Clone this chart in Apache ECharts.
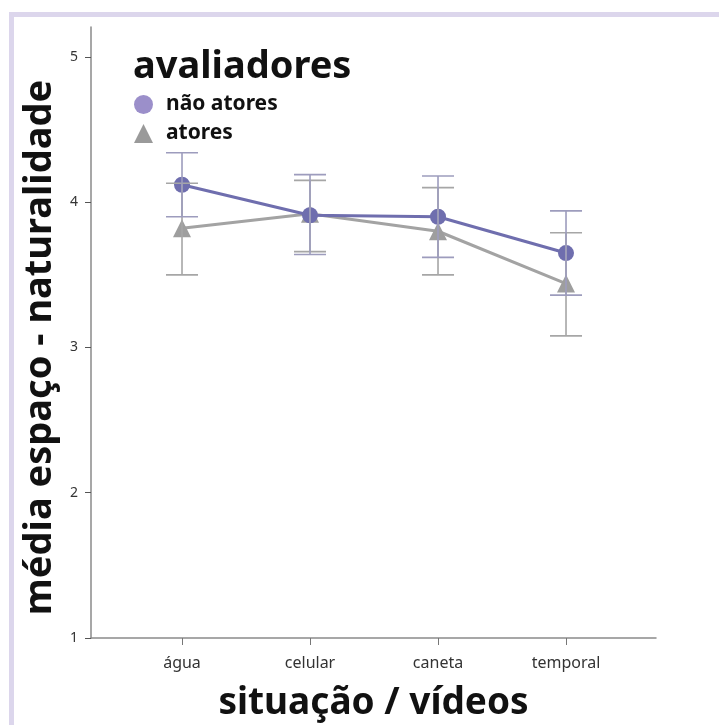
<!DOCTYPE html>
<html>
<head>
<meta charset="utf-8">
<script src="https://cdn.jsdelivr.net/npm/echarts@6/dist/echarts.min.js"></script>
<style>
  html, body { margin: 0; padding: 0; background: #fff; }
  .frame {
    position: absolute;
    left: 9px;
    top: 12px;
    width: 720px;
    height: 720px;
    border-left: 5px solid #dcd6ec;
    border-top: 5px solid #dcd6ec;
  }
  #chart { position: absolute; left: 0; top: 0; width: 719px; height: 725px; }
</style>
</head>
<body>
<div class="frame"></div>
<div id="chart"></div>
<script>
const categories = ['água', 'celular', 'caneta', 'temporal']
const xTicks = [0, 1, 2, 3]
const yTicks = [1, 2, 3, 4, 5]

// não atores
const naoAtoresMean = [4.12, 3.91, 3.90, 3.65]
const naoAtoresLow = [3.90, 3.64, 3.62, 3.36]
const naoAtoresHigh = [4.34, 4.19, 4.18, 3.94]

// atores
const atoresMean = [3.82, 3.92, 3.80, 3.44]
const atoresLow = [3.50, 3.66, 3.50, 3.08]
const atoresHigh = [4.13, 4.15, 4.10, 3.79]

const purple = '#6f6eae'
const gray = '#9e9e9e'

function pts(mean) {
  return mean.map((v, i) => [i, v])
}
function bars(low, high) {
  return low.map((v, i) => [i, v, high[i]])
}

function errorBar(color) {
  return (params, api) => {
    const x = api.value(0)
    const lo = api.coord([x, api.value(1)])
    const hi = api.coord([x, api.value(2)])
    const w = 16
    const style = { stroke: color, lineWidth: 1.6 }
    return {
      type: 'group',
      children: [
        { type: 'line', shape: { x1: lo[0], y1: lo[1], x2: hi[0], y2: hi[1] }, style },
        { type: 'line', shape: { x1: lo[0] - w, y1: lo[1], x2: lo[0] + w, y2: lo[1] }, style },
        { type: 'line', shape: { x1: hi[0] - w, y1: hi[1], x2: hi[0] + w, y2: hi[1] }, style },
      ],
    }
  }
}

const option = {
  animation: false,
  title: {
    text: 'avaliadores',
    left: 128,
    top: 43,
    textStyle: { fontFamily: 'Noto Sans', fontSize: 38, fontWeight: 'bold', color: '#111' },
  },
  legend: {
    orient: 'vertical',
    left: 129,
    top: 89,
    itemWidth: 19,
    itemHeight: 19,
    itemGap: 8,
    selectedMode: false,
    textStyle: { fontFamily: 'Noto Sans', fontSize: 21, fontWeight: 'bold', color: '#111', padding: [0, 0, 0, 8] },
    data: [
      { name: 'não atores', icon: 'circle', itemStyle: { color: '#9b8fca' } },
      { name: 'atores', icon: 'triangle', itemStyle: { color: '#9a9a9a' } },
    ],
  },
  grid: { left: 91, right: 63, top: 27, bottom: 87, outerBoundsMode: 'none' },
  xAxis: {
    type: 'value',
    min: -0.711,
    max: 3.703,
    name: 'situação / vídeos',
    nameLocation: 'middle',
    nameGap: 47,
    nameTextStyle: { fontFamily: 'Noto Sans', fontSize: 37, fontWeight: 'bold', color: '#111' },
    splitLine: { show: false },
    axisLine: { onZero: false, lineStyle: { color: '#8a8a8a', width: 1.5 } },
    axisTick: { show: true, length: 7, customValues: xTicks, lineStyle: { color: '#777' } },
    axisLabel: {
      customValues: xTicks,
      formatter: (v) => categories[Math.round(v)],
      margin: 17,
      fontFamily: 'Noto Sans',
      fontSize: 16,
      color: '#333',
    },
  },
  yAxis: {
    type: 'value',
    min: 1,
    max: 5.206,
    name: 'média espaço - naturalidade',
    nameLocation: 'middle',
    nameGap: 30,
    nameTextStyle: {
      fontFamily: 'Noto Sans',
      fontSize: 38,
      fontWeight: 'bold',
      color: '#111',
      padding: [0, 30, 0, 0],
    },
    splitLine: { show: false },
    axisLine: { show: true, onZero: false, lineStyle: { color: '#8a8a8a', width: 1.5 } },
    axisTick: { show: true, length: 6, customValues: yTicks, lineStyle: { color: '#555' } },
    axisLabel: {
      customValues: yTicks,
      margin: 13,
      fontFamily: 'Noto Sans',
      fontSize: 14,
      color: '#333',
    },
  },
  series: [
    {
      name: 'não atores',
      type: 'line',
      data: pts(naoAtoresMean),
      symbol: 'circle',
      symbolSize: 16,
      itemStyle: { color: purple },
      lineStyle: { color: purple, width: 3 },
      z: 3,
    },
    {
      name: 'atores',
      type: 'line',
      data: pts(atoresMean),
      symbol: 'triangle',
      symbolSize: 18,
      itemStyle: { color: gray },
      lineStyle: { color: '#a3a3a3', width: 3 },
      z: 2,
    },
    {
      type: 'custom',
      data: bars(atoresLow, atoresHigh),
      renderItem: errorBar('#a6a6a6'),
      z: 4,
      silent: true,
    },
    {
      type: 'custom',
      data: bars(naoAtoresLow, naoAtoresHigh),
      renderItem: errorBar('#9d9cbd'),
      z: 5,
      silent: true,
    },
  ],
}

const myChart = echarts.init(document.getElementById('chart'))
myChart.setOption(option)
</script>
</body>
</html>
